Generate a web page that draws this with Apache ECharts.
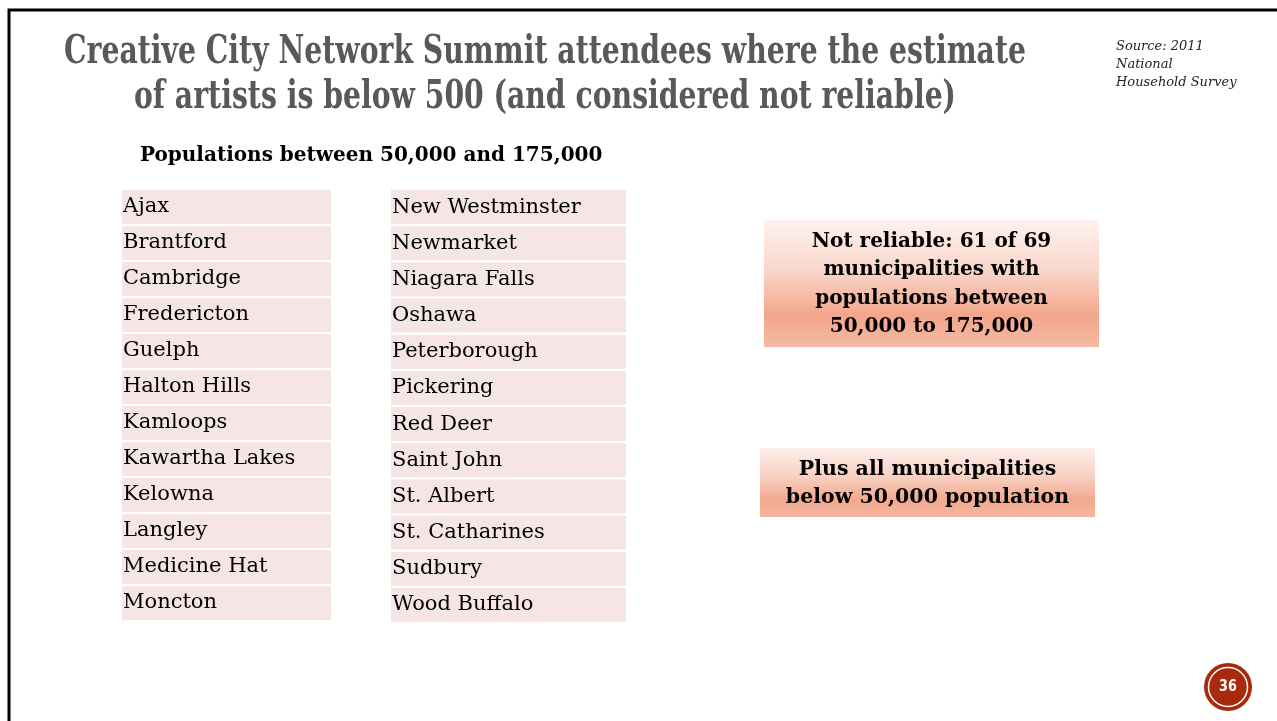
<!DOCTYPE html>
<html>
<head>
<meta charset="utf-8">
<title>Creative City Network Summit</title>
<script src="https://cdn.jsdelivr.net/npm/echarts@6/dist/echarts.min.js"></script>
<style>
  html, body { margin: 0; padding: 0; background: #fff; }
  #chart { width: 1277px; height: 721px; }
</style>
</head>
<body>
<div id="chart"></div>
<script>
// municipalities, two columns as in the slide
const columnOne = ['Ajax', 'Brantford', 'Cambridge', 'Fredericton', 'Guelph', 'Halton Hills',
  'Kamloops', 'Kawartha Lakes', 'Kelowna', 'Langley', 'Medicine Hat', 'Moncton']
const columnTwo = ['New Westminster', 'Newmarket', 'Niagara Falls', 'Oshawa', 'Peterborough', 'Pickering',
  'Red Deer', 'Saint John', 'St. Albert', 'St. Catharines', 'Sudbury', 'Wood Buffalo']
const titleLines = ['Creative City Network Summit attendees where the estimate',
  'of artists is below 500 (and considered not reliable)']
const sourceLines = ['Source: 2011', 'National', 'Household Survey']
const subtitle = 'Populations between 50,000 and 175,000'
const noteOne = ['Not reliable: 61 of 69', 'municipalities with', 'populations between', '50,000 to 175,000']
const noteTwo = ['Plus all municipalities', 'below 50,000 population']
const pageNumber = '36'

const chart = echarts.init(document.getElementById('chart'))

const bodyFont = 'DejaVu Serif'
const cellColor = '#F6E5E5'

function tableSeries (names, idx) {
  return {
    type: 'bar',
    xAxisIndex: idx,
    yAxisIndex: idx,
    data: names.map(() => 1),
    barCategoryGap: '6%',
    silent: true,
    itemStyle: { color: cellColor },
    label: {
      show: true,
      position: 'insideLeft',
      distance: 1,
      formatter: '{b}',
      color: '#000',
      fontFamily: bodyFont,
      fontSize: 21
    }
  }
}

function noteBox (x, y, w, h, lines, lineGap, fontSize, stops) {
  return {
    type: 'group',
    children: [
      {
        type: 'rect',
        shape: { x: x, y: y, width: w, height: h },
        style: {
          fill: { type: 'linear', x: 0, y: 0, x2: 0, y2: 1, colorStops: stops }
        }
      },
      {
        type: 'text',
        x: x + w / 2,
        y: y + h / 2 + 1,
        style: {
          text: lines.join('\n'),
          align: 'center',
          verticalAlign: 'middle',
          lineHeight: lineGap,
          fill: '#000',
          font: 'bold ' + fontSize + 'px "DejaVu Serif"'
        }
      }
    ]
  }
}

const option = {
  animation: false,
  grid: [
    { left: 122, top: 189, width: 209, height: 432 },
    { left: 391, top: 189, width: 235, height: 434 }
  ],
  xAxis: [0, 1].map(i => ({ gridIndex: i, type: 'value', min: 0, max: 1, show: false })),
  yAxis: [columnOne, columnTwo].map((names, i) => ({
    gridIndex: i, type: 'category', data: names, inverse: true, show: false
  })),
  series: [tableSeries(columnOne, 0), tableSeries(columnTwo, 1)],
  graphic: [
    // slide frame
    { type: 'polyline', shape: { points: [[9, 721], [9, 10], [1277, 10]] }, style: { stroke: '#000', lineWidth: 3, fill: null } },
    {
      type: 'text', x: 545, y: 53, scaleX: 0.707,
      style: { text: titleLines[0], align: 'center', verticalAlign: 'middle', fill: '#595959', font: 'bold 40px "DejaVu Serif"' }
    },
    {
      type: 'text', x: 545, y: 98, scaleX: 0.707,
      style: { text: titleLines[1], align: 'center', verticalAlign: 'middle', fill: '#595959', font: 'bold 40px "DejaVu Serif"' }
    },
    {
      type: 'text', x: 1116, y: 38,
      style: { text: sourceLines.join('\n'), verticalAlign: 'top', lineHeight: 18, fill: '#222', font: 'italic 13px "DejaVu Serif"' }
    },
    {
      type: 'text', x: 140, y: 156,
      style: { text: subtitle, verticalAlign: 'middle', fill: '#000', font: 'bold 20px "DejaVu Serif"' }
    },
    noteBox(764, 220, 335, 127, noteOne, 28.5, 20, [
      { offset: 0, color: '#FEF2EF' }, { offset: 0.4, color: '#F9D6CA' }, { offset: 0.75, color: '#F2A68B' }, { offset: 1, color: '#F5BAA4' }
    ]),
    noteBox(760, 448, 335, 69, noteTwo, 28, 20.5, [
      { offset: 0, color: '#FDEFEB' }, { offset: 0.4, color: '#F8D2C4' }, { offset: 0.75, color: '#F2A98E' }, { offset: 1, color: '#F4B7A1' }
    ]),
    // page number badge
    { type: 'circle', shape: { cx: 1228, cy: 687, r: 24 }, style: { fill: '#A8290C' } },
    { type: 'circle', shape: { cx: 1228, cy: 687, r: 19.5 }, style: { fill: null, stroke: '#fff', lineWidth: 1.5 } },
    {
      type: 'text', x: 1228, y: 687, scaleX: 0.8,
      style: { text: pageNumber, align: 'center', verticalAlign: 'middle', fill: '#fff', font: 'bold 16px "DejaVu Sans"' }
    }
  ]
}

chart.setOption(option)
</script>
</body>
</html>
